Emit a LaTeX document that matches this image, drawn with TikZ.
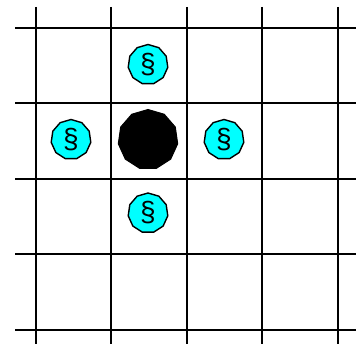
\documentclass[tikz,border=0pt]{standalone}
\usepackage{fontspec}
\setmainfont{Liberation Sans}
\usetikzlibrary{shapes.geometric}
\definecolor{coincyan}{RGB}{0,255,255}
\tikzset{
    gridline/.style={line width=2pt,black},
    coinmark/.style={regular polygon,regular polygon sides=11,draw,line width=1.4pt,fill=coincyan,minimum size=40pt,inner sep=0pt,font=\fontsize{28}{28}\selectfont},
    stonemark/.style={regular polygon,regular polygon sides=11,draw,line width=1pt,fill=black,minimum size=60pt,inner sep=0pt}
}

\begin{document}
\begin{tikzpicture}[x=1pt,y=-1pt]
        \useasboundingbox (0,0) rectangle (357,344);
        \foreach \gx in {35.5,111,186.5,262,337.5}
            \draw[gridline] (\gx,7) -- (\gx,344);
        \foreach \gy in {28,103.4,178.8,254.2,329.6}
            \draw[gridline] (15,\gy) -- (356,\gy);
        \node[stonemark] (stone) at (148,139.5) {};
        \node[coinmark] (north) at (148,64.5) {\S};
        \node[coinmark] (west) at (71,139.5) {\S};
        \node[coinmark] (east) at (224,139.5) {\S};
        \node[coinmark] (south) at (148,213) {\S};
    \end{tikzpicture}
\end{document}
